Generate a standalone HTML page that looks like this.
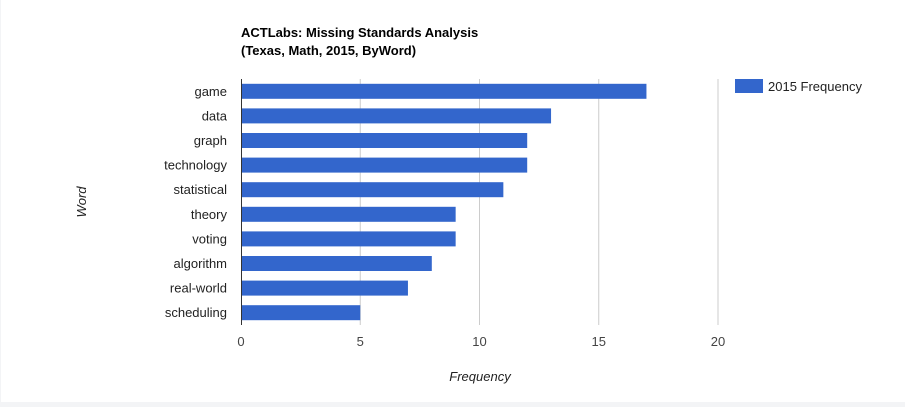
<!DOCTYPE html>
<html><head><meta charset="utf-8"><style>
body{margin:0;background:#f3f4f6;}
#wrap{position:absolute;left:1px;top:0;width:904px;height:402px;background:#fff;}
svg{font-family:"Liberation Sans",Arial,sans-serif;}
</style></head><body>
<div id="wrap">
<svg id="c" width="904" height="402">
<text x="240" y="37" font-size="13" font-weight="bold" fill="#000">ACTLabs: Missing Standards Analysis</text>
<text x="240" y="55" font-size="13" font-weight="bold" fill="#000">(Texas, Math, 2015, ByWord)</text>
<text transform="translate(85,202) rotate(-90)" text-anchor="middle" font-size="13" font-style="italic" fill="#222">Word</text>
<text x="479" y="381" text-anchor="middle" font-size="13" font-style="italic" fill="#222">Frequency</text>
<rect x="734" y="79" width="28" height="14" fill="#3366cc"/>
<text x="767" y="91" font-size="13" fill="#222">2015 Frequency</text>
</svg></div>
<script>
const categories=["game","data","graph","technology","statistical","theory","voting","algorithm","real-world","scheduling"];
const values=[17,13,12,12,11,9,9,8,7,5];
const ticks=[0,5,10,15,20];
const svg=document.getElementById('c');
const NS="http://www.w3.org/2000/svg";
const x0=240,xMax=717,top_=79,bot=325;
const xs=v=>x0+(v/20)*(xMax-x0);
const step=(bot-top_)/categories.length;
function mk(t,a){const e=document.createElementNS(NS,t);for(const k in a)e.setAttribute(k,a[k]);svg.appendChild(e);return e;}
ticks.forEach(t=>{
 if(t>0){const g=mk('line',{x1:xs(t),x2:xs(t),y1:top_,y2:bot,stroke:'#ccc','stroke-width':1});
 
 }
 const l=mk('text',{x:xs(t),y:346,'text-anchor':'middle','font-size':13,fill:'#444'});
 l.textContent=t;
 
 
});
categories.forEach((c,i)=>{
 const cy=top_+step*(i+0.5);
 const b=mk('rect',{x:x0,y:cy-7.5,width:xs(values[i])-x0,height:15,fill:'#3366cc'});
 
 
 const t=mk('text',{x:226,y:cy+4.5,'text-anchor':'end','font-size':13,fill:'#222'});
 t.textContent=c;
 
 
});
const ax=mk('line',{x1:x0+0.5,x2:x0+0.5,y1:top_,y2:bot,stroke:'#333','stroke-width':1});


</script>
</body></html>
